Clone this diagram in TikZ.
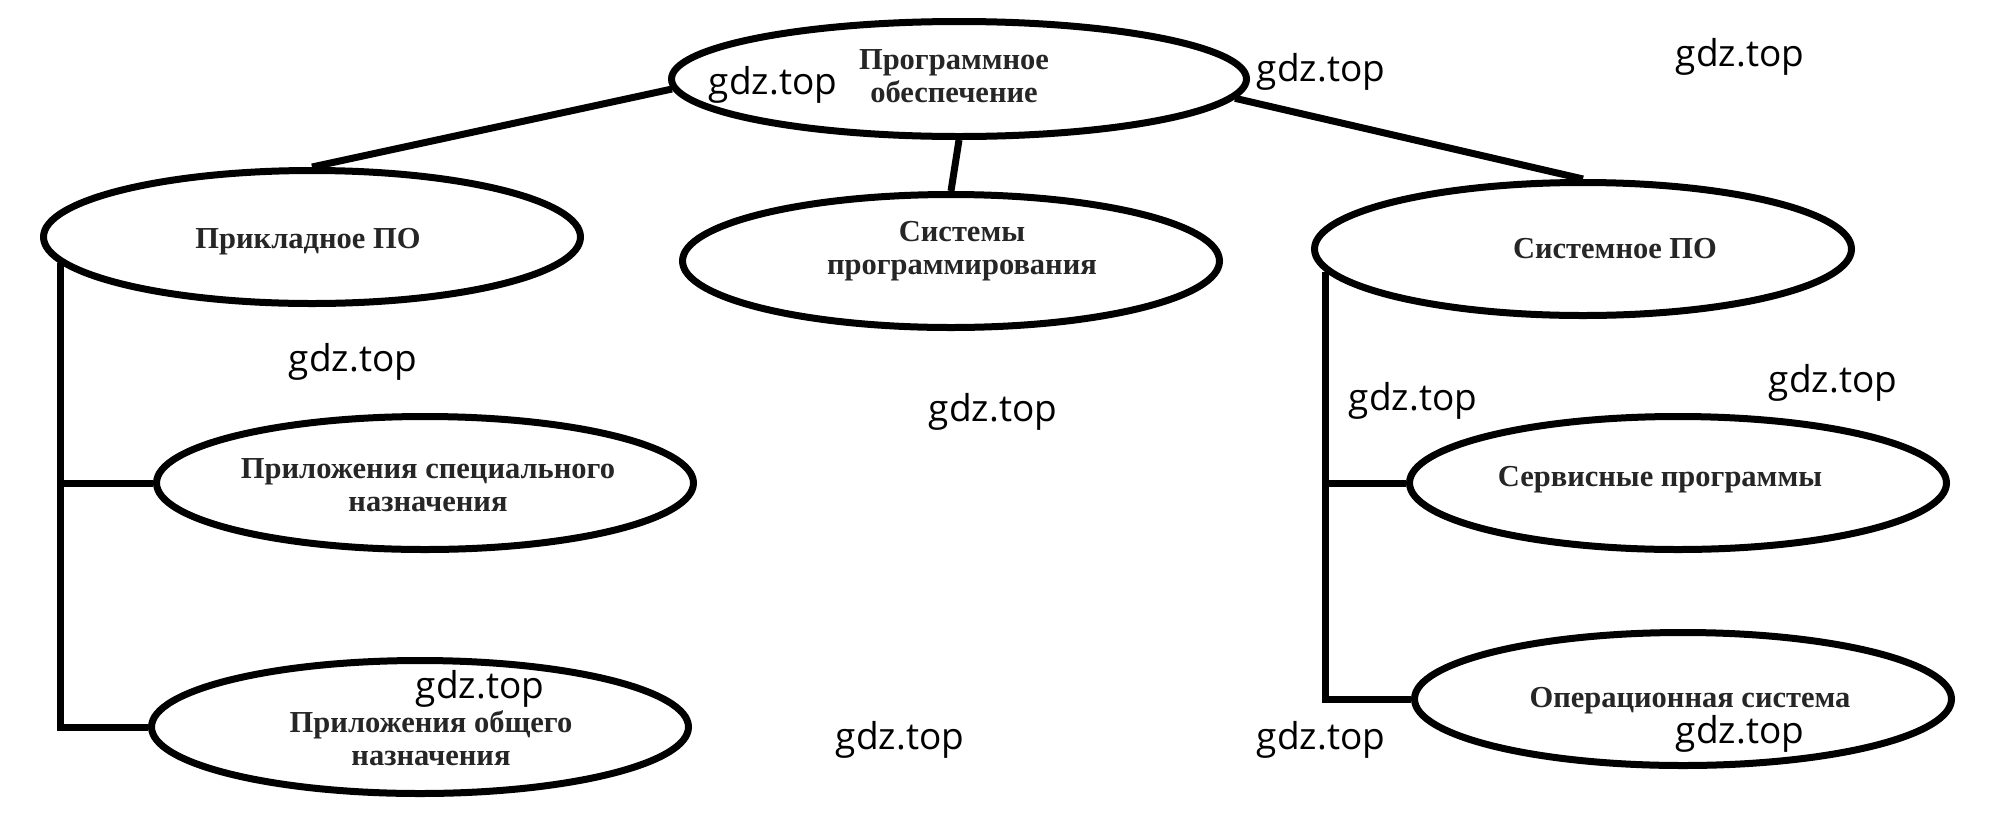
\documentclass[tikz,border=0pt]{standalone}
\usepackage{fontspec}
\setmainfont{Liberation Serif}
\newfontfamily\wmfont{Open Sans}
\usetikzlibrary{shapes.geometric}
\tikzset{
  ell/.style={ellipse, draw=black, line width=7pt, fill=white, inner sep=0pt, minimum width=537pt, minimum height=133pt},
  txt/.style={align=center, font=\fontsize{30.5}{33}\selectfont\bfseries, text=black!85, inner sep=0pt},
  wm/.style={font=\wmfont\fontsize{37}{40}\selectfont, text=black, inner sep=0pt},
  link/.style={line width=7pt, line join=miter},
}
\begin{document}
\begin{tikzpicture}[x=1pt, y=-1pt]
\useasboundingbox[fill=white] (0,0) rectangle (1990,839);
% ellipses
\node[ell, minimum width=575pt, minimum height=115pt] (root) at (959,79) {};
\node[ell] (app) at (312,237) {};
\node[ell] (prog) at (951,261) {};
\node[ell] (sys) at (1583,249) {};
\node[ell] (spec) at (425,483) {};
\node[ell] (gen) at (420,727) {};
\node[ell] (serv) at (1678,483) {};
\node[ell] (os) at (1683,699) {};
% connectors
\draw[link] (root.182) -- (app.north);
\draw[link] (root.-4) -- (sys.north);
\draw[link] (root.south) -- (prog.north);
\draw[link] (app.186.7) |- (spec.west);
\draw[link] (app.186.7) |- (gen.west);
\draw[link] (sys.185.6) |- (serv.west);
\draw[link] (sys.185.6) |- (os.west);
% texts
\node[txt] (rootT) at (954,76) {Программное\\обеспечение};
\node[txt] (appT) at (308,242) {Прикладное ПО};
\node[txt] (progT) at (962,251) {Системы\\программирования};
\node[txt] (sysT) at (1615,249) {Системное ПО};
\node[txt] (specT) at (428,485) {Приложения специального\\назначения};
\node[txt] (genT) at (431,738) {Приложения общего\\назначения};
\node[txt] (servT) at (1660,480) {Сервисные программы};
\node[txt] (osT) at (1690,701) {Операционная система};
% watermarks
\node[wm] (w1) at (773,85) {gdz.top};
\node[wm] (w2) at (1321,72) {gdz.top};
\node[wm] (w3) at (1740,57) {gdz.top};
\node[wm] (w4) at (353,362) {gdz.top};
\node[wm] (w5) at (993,412) {gdz.top};
\node[wm] (w6) at (1413,401) {gdz.top};
\node[wm] (w7) at (1833,383) {gdz.top};
\node[wm] (w8) at (480,689) {gdz.top};
\node[wm] (w9) at (900,740) {gdz.top};
\node[wm] (w10) at (1321,740) {gdz.top};
\node[wm] (w11) at (1740,734) {gdz.top};
\end{tikzpicture}
\end{document}
